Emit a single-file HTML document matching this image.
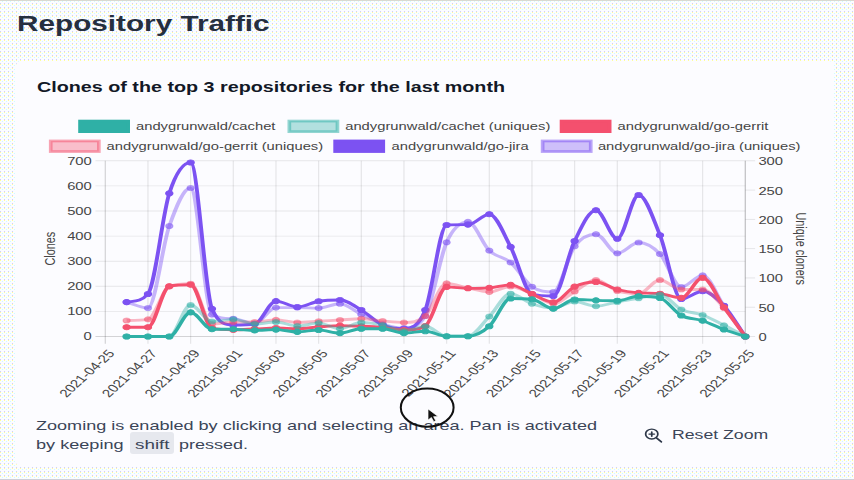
<!DOCTYPE html>
<html lang="en">
<head>
<meta charset="utf-8">
<title>Repository Traffic</title>
<style>
html,body{margin:0;padding:0;}
body{width:854px;height:480px;overflow:hidden;position:relative;background:#f7f9fb;font-family:"Liberation Sans",Arial,Helvetica,sans-serif;}
.topline{position:absolute;left:0;top:0;width:854px;height:1px;background:#d9d9cf;}
.fit{display:inline-block;white-space:nowrap;transform-origin:0 50%;}
h1{position:absolute;left:17.2px;top:8.7px;margin:0;font-size:22px;line-height:30px;font-weight:700;color:#252f3f;}
.card{position:absolute;left:16.4px;top:61px;width:817.6px;height:405.9px;background:#fcfcff;border-radius:6px/4.5px;}
h2{position:absolute;left:37.1px;top:76.5px;margin:0;font-size:15.2px;line-height:20px;font-weight:700;color:#121826;}
p.help{position:absolute;left:36.4px;top:417.4px;margin:0;font-size:12.8px;line-height:18.2px;color:#3b4558;}
p.help .ln{display:block;height:18.2px;white-space:nowrap;}
kbd{position:absolute;left:129.6px;top:432.4px;width:44.9px;height:21.8px;background:#e6e8ee;border-radius:3px;font-family:inherit;}
button.reset{position:absolute;left:634px;top:419px;width:146px;height:30px;margin:0;padding:0;border:0;background:transparent;font-family:inherit;font-size:12.8px;color:#3b4558;text-align:left;}
button.reset svg{position:absolute;left:9.2px;top:8.3px;}
button.reset .fit{position:absolute;left:37.5px;top:8.3px;line-height:16px;font-size:13.2px;}
#cursor{position:absolute;left:0;top:0;}
</style>
</head>
<body>
<svg id="bgpat" width="854" height="480" style="position:absolute;left:0;top:0" shape-rendering="crispEdges"><defs><pattern id="dz" width="4" height="4" patternUnits="userSpaceOnUse"><rect width="4" height="4" fill="#fcfcff"/><rect x="2" y="1" width="1" height="1" fill="#ccffff"/><rect x="0" y="3" width="1" height="1" fill="#ccccff"/><rect x="0" y="0" width="1" height="1" fill="#ffff99"/></pattern></defs><rect width="854" height="480" fill="url(#dz)"/></svg>
<div class="topline"></div><div class="topline" style="top:479px;background:#cfcfd8"></div>
<h1><span class="fit" id="t1" style="transform:scaleX(1.3505)">Repository Traffic</span></h1>
<div class="card"></div>
<h2><span class="fit" id="t2" style="transform:scaleX(1.2989)">Clones of the top 3 repositories for the last month</span></h2>
<svg id="chart" width="854" height="480" viewBox="0 0 854 480" style="position:absolute;left:0;top:0" font-family="'Liberation Sans', Arial, Helvetica, sans-serif">
<g transform="scale(1.3600,1)">
<rect x="58.86" y="121.06" width="35.37" height="10.59" fill="#2fb0a6" stroke="#2fb0a6" stroke-width="2.71"/>
<text x="100.00" y="130.26" font-size="10.86" fill="#454545">andygrunwald/cachet</text>
<rect x="212.75" y="121.06" width="35.37" height="10.59" fill="rgba(47,176,166,0.36)" stroke="rgba(47,176,166,0.52)" stroke-width="2.71"/>
<text x="253.82" y="130.26" font-size="10.86" fill="#454545">andygrunwald/cachet (uniques)</text>
<rect x="412.90" y="121.06" width="35.37" height="10.59" fill="#f4506e" stroke="#f4506e" stroke-width="2.71"/>
<text x="454.04" y="130.26" font-size="10.86" fill="#454545">andygrunwald/go-gerrit</text>
<rect x="37.31" y="140.96" width="35.37" height="10.59" fill="rgba(244,80,110,0.36)" stroke="rgba(244,80,110,0.52)" stroke-width="2.71"/>
<text x="78.38" y="150.16" font-size="10.86" fill="#454545">andygrunwald/go-gerrit (uniques)</text>
<rect x="246.43" y="140.96" width="35.37" height="10.59" fill="#7c52f2" stroke="#7c52f2" stroke-width="2.71"/>
<text x="287.94" y="150.16" font-size="10.86" fill="#454545">andygrunwald/go-jira</text>
<rect x="399.00" y="140.96" width="35.37" height="10.59" fill="rgba(124,82,242,0.36)" stroke="rgba(124,82,242,0.52)" stroke-width="2.71"/>
<text x="439.63" y="150.16" font-size="10.86" fill="#454545">andygrunwald/go-jira (uniques)</text>
<line x1="70.19" y1="336.50" x2="548.01" y2="336.50" stroke="rgba(0,0,0,0.16)" stroke-width="0.91"/>
<text x="67.50" y="340.41" font-size="10.86" fill="#454545" text-anchor="end">0</text>
<line x1="70.19" y1="311.40" x2="548.01" y2="311.40" stroke="rgba(0,0,0,0.09)" stroke-width="0.91"/>
<text x="67.50" y="315.31" font-size="10.86" fill="#454545" text-anchor="end">100</text>
<line x1="70.19" y1="286.30" x2="548.01" y2="286.30" stroke="rgba(0,0,0,0.09)" stroke-width="0.91"/>
<text x="67.50" y="290.21" font-size="10.86" fill="#454545" text-anchor="end">200</text>
<line x1="70.19" y1="261.20" x2="548.01" y2="261.20" stroke="rgba(0,0,0,0.09)" stroke-width="0.91"/>
<text x="67.50" y="265.11" font-size="10.86" fill="#454545" text-anchor="end">300</text>
<line x1="70.19" y1="236.10" x2="548.01" y2="236.10" stroke="rgba(0,0,0,0.09)" stroke-width="0.91"/>
<text x="67.50" y="240.01" font-size="10.86" fill="#454545" text-anchor="end">400</text>
<line x1="70.19" y1="211.00" x2="548.01" y2="211.00" stroke="rgba(0,0,0,0.09)" stroke-width="0.91"/>
<text x="67.50" y="214.91" font-size="10.86" fill="#454545" text-anchor="end">500</text>
<line x1="70.19" y1="185.90" x2="548.01" y2="185.90" stroke="rgba(0,0,0,0.09)" stroke-width="0.91"/>
<text x="67.50" y="189.81" font-size="10.86" fill="#454545" text-anchor="end">600</text>
<line x1="70.19" y1="160.80" x2="548.01" y2="160.80" stroke="rgba(0,0,0,0.09)" stroke-width="0.91"/>
<text x="67.50" y="164.71" font-size="10.86" fill="#454545" text-anchor="end">700</text>
<line x1="548.01" y1="336.50" x2="555.25" y2="336.50" stroke="rgba(0,0,0,0.1)" stroke-width="0.91"/>
<text x="557.65" y="341.01" font-size="10.86" fill="#454545">0</text>
<line x1="548.01" y1="307.22" x2="555.25" y2="307.22" stroke="rgba(0,0,0,0.1)" stroke-width="0.91"/>
<text x="557.65" y="311.73" font-size="10.86" fill="#454545">50</text>
<line x1="548.01" y1="277.93" x2="555.25" y2="277.93" stroke="rgba(0,0,0,0.1)" stroke-width="0.91"/>
<text x="557.65" y="282.44" font-size="10.86" fill="#454545">100</text>
<line x1="548.01" y1="248.65" x2="555.25" y2="248.65" stroke="rgba(0,0,0,0.1)" stroke-width="0.91"/>
<text x="557.65" y="253.16" font-size="10.86" fill="#454545">150</text>
<line x1="548.01" y1="219.37" x2="555.25" y2="219.37" stroke="rgba(0,0,0,0.1)" stroke-width="0.91"/>
<text x="557.65" y="223.88" font-size="10.86" fill="#454545">200</text>
<line x1="548.01" y1="190.08" x2="555.25" y2="190.08" stroke="rgba(0,0,0,0.1)" stroke-width="0.91"/>
<text x="557.65" y="194.59" font-size="10.86" fill="#454545">250</text>
<line x1="548.01" y1="160.80" x2="555.25" y2="160.80" stroke="rgba(0,0,0,0.1)" stroke-width="0.91"/>
<text x="557.65" y="165.31" font-size="10.86" fill="#454545">300</text>
<line x1="77.43" y1="160.80" x2="77.43" y2="343.74" stroke="rgba(0,0,0,0.16)" stroke-width="0.91"/>
<line x1="108.80" y1="160.80" x2="108.80" y2="343.74" stroke="rgba(0,0,0,0.09)" stroke-width="0.91"/>
<line x1="140.17" y1="160.80" x2="140.17" y2="343.74" stroke="rgba(0,0,0,0.09)" stroke-width="0.91"/>
<line x1="171.54" y1="160.80" x2="171.54" y2="343.74" stroke="rgba(0,0,0,0.09)" stroke-width="0.91"/>
<line x1="202.92" y1="160.80" x2="202.92" y2="343.74" stroke="rgba(0,0,0,0.09)" stroke-width="0.91"/>
<line x1="234.29" y1="160.80" x2="234.29" y2="343.74" stroke="rgba(0,0,0,0.09)" stroke-width="0.91"/>
<line x1="265.66" y1="160.80" x2="265.66" y2="343.74" stroke="rgba(0,0,0,0.09)" stroke-width="0.91"/>
<line x1="297.03" y1="160.80" x2="297.03" y2="343.74" stroke="rgba(0,0,0,0.09)" stroke-width="0.91"/>
<line x1="328.41" y1="160.80" x2="328.41" y2="343.74" stroke="rgba(0,0,0,0.09)" stroke-width="0.91"/>
<line x1="359.78" y1="160.80" x2="359.78" y2="343.74" stroke="rgba(0,0,0,0.09)" stroke-width="0.91"/>
<line x1="391.15" y1="160.80" x2="391.15" y2="343.74" stroke="rgba(0,0,0,0.09)" stroke-width="0.91"/>
<line x1="422.52" y1="160.80" x2="422.52" y2="343.74" stroke="rgba(0,0,0,0.09)" stroke-width="0.91"/>
<line x1="453.90" y1="160.80" x2="453.90" y2="343.74" stroke="rgba(0,0,0,0.09)" stroke-width="0.91"/>
<line x1="485.27" y1="160.80" x2="485.27" y2="343.74" stroke="rgba(0,0,0,0.09)" stroke-width="0.91"/>
<line x1="516.64" y1="160.80" x2="516.64" y2="343.74" stroke="rgba(0,0,0,0.09)" stroke-width="0.91"/>
<line x1="548.01" y1="160.80" x2="548.01" y2="343.74" stroke="rgba(0,0,0,0.09)" stroke-width="0.91"/>
<line x1="548.01" y1="160.80" x2="548.01" y2="336.50" stroke="rgba(0,0,0,0.16)" stroke-width="0.91"/>
<text transform="translate(78.53,348.75) rotate(-50.8)" font-size="11.13" fill="#454545" text-anchor="end" dominant-baseline="hanging" dy="0">2021-04-25</text>
<text transform="translate(109.90,348.75) rotate(-50.8)" font-size="11.13" fill="#454545" text-anchor="end" dominant-baseline="hanging" dy="0">2021-04-27</text>
<text transform="translate(141.27,348.75) rotate(-50.8)" font-size="11.13" fill="#454545" text-anchor="end" dominant-baseline="hanging" dy="0">2021-04-29</text>
<text transform="translate(172.65,348.75) rotate(-50.8)" font-size="11.13" fill="#454545" text-anchor="end" dominant-baseline="hanging" dy="0">2021-05-01</text>
<text transform="translate(204.02,348.75) rotate(-50.8)" font-size="11.13" fill="#454545" text-anchor="end" dominant-baseline="hanging" dy="0">2021-05-03</text>
<text transform="translate(235.39,348.75) rotate(-50.8)" font-size="11.13" fill="#454545" text-anchor="end" dominant-baseline="hanging" dy="0">2021-05-05</text>
<text transform="translate(266.76,348.75) rotate(-50.8)" font-size="11.13" fill="#454545" text-anchor="end" dominant-baseline="hanging" dy="0">2021-05-07</text>
<text transform="translate(298.14,348.75) rotate(-50.8)" font-size="11.13" fill="#454545" text-anchor="end" dominant-baseline="hanging" dy="0">2021-05-09</text>
<text transform="translate(329.51,348.75) rotate(-50.8)" font-size="11.13" fill="#454545" text-anchor="end" dominant-baseline="hanging" dy="0">2021-05-11</text>
<text transform="translate(360.88,348.75) rotate(-50.8)" font-size="11.13" fill="#454545" text-anchor="end" dominant-baseline="hanging" dy="0">2021-05-13</text>
<text transform="translate(392.25,348.75) rotate(-50.8)" font-size="11.13" fill="#454545" text-anchor="end" dominant-baseline="hanging" dy="0">2021-05-15</text>
<text transform="translate(423.63,348.75) rotate(-50.8)" font-size="11.13" fill="#454545" text-anchor="end" dominant-baseline="hanging" dy="0">2021-05-17</text>
<text transform="translate(455.00,348.75) rotate(-50.8)" font-size="11.13" fill="#454545" text-anchor="end" dominant-baseline="hanging" dy="0">2021-05-19</text>
<text transform="translate(486.37,348.75) rotate(-50.8)" font-size="11.13" fill="#454545" text-anchor="end" dominant-baseline="hanging" dy="0">2021-05-21</text>
<text transform="translate(517.75,348.75) rotate(-50.8)" font-size="11.13" fill="#454545" text-anchor="end" dominant-baseline="hanging" dy="0">2021-05-23</text>
<text transform="translate(549.12,348.75) rotate(-50.8)" font-size="11.13" fill="#454545" text-anchor="end" dominant-baseline="hanging" dy="0">2021-05-25</text>
<text transform="translate(40.29,248.65) rotate(-90)" font-size="10.86" fill="#454545" text-anchor="middle">Clones</text>
<text transform="translate(585.29,248.65) rotate(90)" font-size="10.86" fill="#454545" text-anchor="middle">Unique cloners</text>
<path d="M93.11 302.10C98.34 304.07 103.57 308.00 108.80 308.00C114.03 308.00 119.26 246.00 124.49 226.00C129.71 206.00 134.94 188.00 140.17 188.00C145.40 188.00 150.63 310.51 155.86 314.60C161.09 318.69 166.32 318.42 171.54 318.70C176.77 318.98 182.00 323.40 187.23 323.40C192.46 323.40 197.69 307.60 202.92 307.60C208.15 307.60 213.37 307.60 218.60 307.60C223.83 307.60 229.06 308.10 234.29 308.10C239.52 308.10 244.75 303.75 249.98 303.75C255.20 303.75 260.43 311.02 265.66 314.40C270.89 317.77 276.12 321.73 281.35 324.00C286.58 326.27 291.81 328.00 297.03 328.00C302.26 328.00 307.49 328.00 312.72 316.00C317.95 304.00 323.18 257.98 328.41 242.30C333.64 226.62 338.86 221.90 344.09 221.90C349.32 221.90 354.55 243.83 359.78 250.60C365.01 257.37 370.24 256.48 375.47 262.50C380.69 268.52 385.92 281.78 391.15 286.70C396.38 291.62 401.61 292.00 406.84 292.00C412.07 292.00 417.30 255.88 422.52 246.25C427.75 236.62 432.98 234.20 438.21 234.20C443.44 234.20 448.67 253.30 453.90 253.30C459.13 253.30 464.35 242.50 469.58 242.50C474.81 242.50 480.04 246.58 485.27 254.00C490.50 261.42 495.73 287.00 500.96 287.00C506.18 287.00 511.41 275.30 516.64 275.30C521.87 275.30 527.10 295.80 532.33 306.00C537.56 316.20 542.79 326.33 548.01 336.50" fill="none" stroke="rgba(124,82,242,0.42)" stroke-width="2.85" stroke-linejoin="round" stroke-linecap="butt"/>
<circle cx="93.11" cy="302.10" r="2.62" fill="rgba(124,82,242,0.55)" stroke="rgba(124,82,242,0.42)" stroke-width="0.91"/>
<circle cx="108.80" cy="308.00" r="2.62" fill="rgba(124,82,242,0.55)" stroke="rgba(124,82,242,0.42)" stroke-width="0.91"/>
<circle cx="124.49" cy="226.00" r="2.62" fill="rgba(124,82,242,0.55)" stroke="rgba(124,82,242,0.42)" stroke-width="0.91"/>
<circle cx="140.17" cy="188.00" r="2.62" fill="rgba(124,82,242,0.55)" stroke="rgba(124,82,242,0.42)" stroke-width="0.91"/>
<circle cx="155.86" cy="314.60" r="2.62" fill="rgba(124,82,242,0.55)" stroke="rgba(124,82,242,0.42)" stroke-width="0.91"/>
<circle cx="171.54" cy="318.70" r="2.62" fill="rgba(124,82,242,0.55)" stroke="rgba(124,82,242,0.42)" stroke-width="0.91"/>
<circle cx="187.23" cy="323.40" r="2.62" fill="rgba(124,82,242,0.55)" stroke="rgba(124,82,242,0.42)" stroke-width="0.91"/>
<circle cx="202.92" cy="307.60" r="2.62" fill="rgba(124,82,242,0.55)" stroke="rgba(124,82,242,0.42)" stroke-width="0.91"/>
<circle cx="218.60" cy="307.60" r="2.62" fill="rgba(124,82,242,0.55)" stroke="rgba(124,82,242,0.42)" stroke-width="0.91"/>
<circle cx="234.29" cy="308.10" r="2.62" fill="rgba(124,82,242,0.55)" stroke="rgba(124,82,242,0.42)" stroke-width="0.91"/>
<circle cx="249.98" cy="303.75" r="2.62" fill="rgba(124,82,242,0.55)" stroke="rgba(124,82,242,0.42)" stroke-width="0.91"/>
<circle cx="265.66" cy="314.40" r="2.62" fill="rgba(124,82,242,0.55)" stroke="rgba(124,82,242,0.42)" stroke-width="0.91"/>
<circle cx="281.35" cy="324.00" r="2.62" fill="rgba(124,82,242,0.55)" stroke="rgba(124,82,242,0.42)" stroke-width="0.91"/>
<circle cx="297.03" cy="328.00" r="2.62" fill="rgba(124,82,242,0.55)" stroke="rgba(124,82,242,0.42)" stroke-width="0.91"/>
<circle cx="312.72" cy="316.00" r="2.62" fill="rgba(124,82,242,0.55)" stroke="rgba(124,82,242,0.42)" stroke-width="0.91"/>
<circle cx="328.41" cy="242.30" r="2.62" fill="rgba(124,82,242,0.55)" stroke="rgba(124,82,242,0.42)" stroke-width="0.91"/>
<circle cx="344.09" cy="221.90" r="2.62" fill="rgba(124,82,242,0.55)" stroke="rgba(124,82,242,0.42)" stroke-width="0.91"/>
<circle cx="359.78" cy="250.60" r="2.62" fill="rgba(124,82,242,0.55)" stroke="rgba(124,82,242,0.42)" stroke-width="0.91"/>
<circle cx="375.47" cy="262.50" r="2.62" fill="rgba(124,82,242,0.55)" stroke="rgba(124,82,242,0.42)" stroke-width="0.91"/>
<circle cx="391.15" cy="286.70" r="2.62" fill="rgba(124,82,242,0.55)" stroke="rgba(124,82,242,0.42)" stroke-width="0.91"/>
<circle cx="406.84" cy="292.00" r="2.62" fill="rgba(124,82,242,0.55)" stroke="rgba(124,82,242,0.42)" stroke-width="0.91"/>
<circle cx="422.52" cy="246.25" r="2.62" fill="rgba(124,82,242,0.55)" stroke="rgba(124,82,242,0.42)" stroke-width="0.91"/>
<circle cx="438.21" cy="234.20" r="2.62" fill="rgba(124,82,242,0.55)" stroke="rgba(124,82,242,0.42)" stroke-width="0.91"/>
<circle cx="453.90" cy="253.30" r="2.62" fill="rgba(124,82,242,0.55)" stroke="rgba(124,82,242,0.42)" stroke-width="0.91"/>
<circle cx="469.58" cy="242.50" r="2.62" fill="rgba(124,82,242,0.55)" stroke="rgba(124,82,242,0.42)" stroke-width="0.91"/>
<circle cx="485.27" cy="254.00" r="2.62" fill="rgba(124,82,242,0.55)" stroke="rgba(124,82,242,0.42)" stroke-width="0.91"/>
<circle cx="500.96" cy="287.00" r="2.62" fill="rgba(124,82,242,0.55)" stroke="rgba(124,82,242,0.42)" stroke-width="0.91"/>
<circle cx="516.64" cy="275.30" r="2.62" fill="rgba(124,82,242,0.55)" stroke="rgba(124,82,242,0.42)" stroke-width="0.91"/>
<circle cx="532.33" cy="306.00" r="2.62" fill="rgba(124,82,242,0.55)" stroke="rgba(124,82,242,0.42)" stroke-width="0.91"/>
<circle cx="548.01" cy="336.50" r="2.62" fill="rgba(124,82,242,0.55)" stroke="rgba(124,82,242,0.42)" stroke-width="0.91"/>
<path d="M93.11 302.10C98.34 300.91 103.57 302.01 108.80 294.00C114.03 285.99 119.26 215.22 124.49 193.30C129.71 171.38 134.94 162.50 140.17 162.50C145.40 162.50 150.63 292.60 155.86 308.80C161.09 325.00 166.32 325.00 171.54 325.00C176.77 325.00 182.00 325.00 187.23 324.00C192.46 323.00 197.69 301.10 202.92 301.10C208.15 301.10 213.37 307.00 218.60 307.00C223.83 307.00 229.06 302.42 234.29 301.25C239.52 300.08 244.75 300.00 249.98 300.00C255.20 300.00 260.43 305.83 265.66 310.00C270.89 314.17 276.12 321.88 281.35 325.00C286.58 328.12 291.81 328.75 297.03 328.75C302.26 328.75 307.49 327.29 312.72 310.00C317.95 292.71 323.18 225.40 328.41 225.00C333.64 224.60 338.86 224.65 344.09 224.60C349.32 224.55 354.55 214.20 359.78 214.20C365.01 214.20 370.24 233.60 375.47 246.90C380.69 260.20 385.92 292.00 391.15 294.00C396.38 296.00 401.61 296.00 406.84 296.00C412.07 296.00 417.30 255.30 422.52 241.00C427.75 226.70 432.98 210.20 438.21 210.20C443.44 210.20 448.67 238.75 453.90 238.75C459.13 238.75 464.35 195.00 469.58 195.00C474.81 195.00 480.04 217.87 485.27 235.20C490.50 252.53 495.73 299.00 500.96 299.00C506.18 299.00 511.41 291.20 516.64 291.20C521.87 291.20 527.10 298.15 532.33 305.70C537.56 313.25 542.79 326.23 548.01 336.50" fill="none" stroke="#7c52f2" stroke-width="2.85" stroke-linejoin="round" stroke-linecap="butt"/>
<circle cx="93.11" cy="302.10" r="2.62" fill="#7c52f2" stroke="#7c52f2" stroke-width="0.91"/>
<circle cx="108.80" cy="294.00" r="2.62" fill="#7c52f2" stroke="#7c52f2" stroke-width="0.91"/>
<circle cx="124.49" cy="193.30" r="2.62" fill="#7c52f2" stroke="#7c52f2" stroke-width="0.91"/>
<circle cx="140.17" cy="162.50" r="2.62" fill="#7c52f2" stroke="#7c52f2" stroke-width="0.91"/>
<circle cx="155.86" cy="308.80" r="2.62" fill="#7c52f2" stroke="#7c52f2" stroke-width="0.91"/>
<circle cx="171.54" cy="325.00" r="2.62" fill="#7c52f2" stroke="#7c52f2" stroke-width="0.91"/>
<circle cx="187.23" cy="324.00" r="2.62" fill="#7c52f2" stroke="#7c52f2" stroke-width="0.91"/>
<circle cx="202.92" cy="301.10" r="2.62" fill="#7c52f2" stroke="#7c52f2" stroke-width="0.91"/>
<circle cx="218.60" cy="307.00" r="2.62" fill="#7c52f2" stroke="#7c52f2" stroke-width="0.91"/>
<circle cx="234.29" cy="301.25" r="2.62" fill="#7c52f2" stroke="#7c52f2" stroke-width="0.91"/>
<circle cx="249.98" cy="300.00" r="2.62" fill="#7c52f2" stroke="#7c52f2" stroke-width="0.91"/>
<circle cx="265.66" cy="310.00" r="2.62" fill="#7c52f2" stroke="#7c52f2" stroke-width="0.91"/>
<circle cx="281.35" cy="325.00" r="2.62" fill="#7c52f2" stroke="#7c52f2" stroke-width="0.91"/>
<circle cx="297.03" cy="328.75" r="2.62" fill="#7c52f2" stroke="#7c52f2" stroke-width="0.91"/>
<circle cx="312.72" cy="310.00" r="2.62" fill="#7c52f2" stroke="#7c52f2" stroke-width="0.91"/>
<circle cx="328.41" cy="225.00" r="2.62" fill="#7c52f2" stroke="#7c52f2" stroke-width="0.91"/>
<circle cx="344.09" cy="224.60" r="2.62" fill="#7c52f2" stroke="#7c52f2" stroke-width="0.91"/>
<circle cx="359.78" cy="214.20" r="2.62" fill="#7c52f2" stroke="#7c52f2" stroke-width="0.91"/>
<circle cx="375.47" cy="246.90" r="2.62" fill="#7c52f2" stroke="#7c52f2" stroke-width="0.91"/>
<circle cx="391.15" cy="294.00" r="2.62" fill="#7c52f2" stroke="#7c52f2" stroke-width="0.91"/>
<circle cx="406.84" cy="296.00" r="2.62" fill="#7c52f2" stroke="#7c52f2" stroke-width="0.91"/>
<circle cx="422.52" cy="241.00" r="2.62" fill="#7c52f2" stroke="#7c52f2" stroke-width="0.91"/>
<circle cx="438.21" cy="210.20" r="2.62" fill="#7c52f2" stroke="#7c52f2" stroke-width="0.91"/>
<circle cx="453.90" cy="238.75" r="2.62" fill="#7c52f2" stroke="#7c52f2" stroke-width="0.91"/>
<circle cx="469.58" cy="195.00" r="2.62" fill="#7c52f2" stroke="#7c52f2" stroke-width="0.91"/>
<circle cx="485.27" cy="235.20" r="2.62" fill="#7c52f2" stroke="#7c52f2" stroke-width="0.91"/>
<circle cx="500.96" cy="299.00" r="2.62" fill="#7c52f2" stroke="#7c52f2" stroke-width="0.91"/>
<circle cx="516.64" cy="291.20" r="2.62" fill="#7c52f2" stroke="#7c52f2" stroke-width="0.91"/>
<circle cx="532.33" cy="305.70" r="2.62" fill="#7c52f2" stroke="#7c52f2" stroke-width="0.91"/>
<circle cx="548.01" cy="336.50" r="2.62" fill="#7c52f2" stroke="#7c52f2" stroke-width="0.91"/>
<path d="M93.11 320.50C98.34 320.42 103.57 320.50 108.80 319.30C114.03 318.10 119.26 289.50 124.49 286.60C129.71 283.70 134.94 283.70 140.17 283.70C145.40 283.70 150.63 324.00 155.86 324.00C161.09 324.00 166.32 322.00 171.54 322.00C176.77 322.00 182.00 322.00 187.23 322.00C192.46 322.00 197.69 319.90 202.92 319.90C208.15 319.90 213.37 322.50 218.60 322.50C223.83 322.50 229.06 321.67 234.29 321.25C239.52 320.83 244.75 320.42 249.98 320.00C255.20 319.58 260.43 318.75 265.66 318.75C270.89 318.75 276.12 320.38 281.35 321.00C286.58 321.62 291.81 322.50 297.03 322.50C302.26 322.50 307.49 322.50 312.72 316.00C317.95 309.50 323.18 283.30 328.41 283.30C333.64 283.30 338.86 286.57 344.09 288.00C349.32 289.43 354.55 291.90 359.78 291.90C365.01 291.90 370.24 286.50 375.47 286.50C380.69 286.50 385.92 291.12 391.15 294.00C396.38 296.88 401.61 303.75 406.84 303.75C412.07 303.75 417.30 295.46 422.52 291.50C427.75 287.54 432.98 280.00 438.21 280.00C443.44 280.00 448.67 288.72 453.90 291.00C459.13 293.28 464.35 293.70 469.58 293.70C474.81 293.70 480.04 280.00 485.27 280.00C490.50 280.00 495.73 289.50 500.96 289.50C506.18 289.50 511.41 289.50 516.64 289.50C521.87 289.50 527.10 300.17 532.33 308.00C537.56 315.83 542.79 327.00 548.01 336.50" fill="none" stroke="rgba(244,80,110,0.40)" stroke-width="2.85" stroke-linejoin="round" stroke-linecap="butt"/>
<circle cx="93.11" cy="320.50" r="2.62" fill="rgba(244,80,110,0.55)" stroke="rgba(244,80,110,0.40)" stroke-width="0.91"/>
<circle cx="108.80" cy="319.30" r="2.62" fill="rgba(244,80,110,0.55)" stroke="rgba(244,80,110,0.40)" stroke-width="0.91"/>
<circle cx="124.49" cy="286.60" r="2.62" fill="rgba(244,80,110,0.55)" stroke="rgba(244,80,110,0.40)" stroke-width="0.91"/>
<circle cx="140.17" cy="283.70" r="2.62" fill="rgba(244,80,110,0.55)" stroke="rgba(244,80,110,0.40)" stroke-width="0.91"/>
<circle cx="155.86" cy="324.00" r="2.62" fill="rgba(244,80,110,0.55)" stroke="rgba(244,80,110,0.40)" stroke-width="0.91"/>
<circle cx="171.54" cy="322.00" r="2.62" fill="rgba(244,80,110,0.55)" stroke="rgba(244,80,110,0.40)" stroke-width="0.91"/>
<circle cx="187.23" cy="322.00" r="2.62" fill="rgba(244,80,110,0.55)" stroke="rgba(244,80,110,0.40)" stroke-width="0.91"/>
<circle cx="202.92" cy="319.90" r="2.62" fill="rgba(244,80,110,0.55)" stroke="rgba(244,80,110,0.40)" stroke-width="0.91"/>
<circle cx="218.60" cy="322.50" r="2.62" fill="rgba(244,80,110,0.55)" stroke="rgba(244,80,110,0.40)" stroke-width="0.91"/>
<circle cx="234.29" cy="321.25" r="2.62" fill="rgba(244,80,110,0.55)" stroke="rgba(244,80,110,0.40)" stroke-width="0.91"/>
<circle cx="249.98" cy="320.00" r="2.62" fill="rgba(244,80,110,0.55)" stroke="rgba(244,80,110,0.40)" stroke-width="0.91"/>
<circle cx="265.66" cy="318.75" r="2.62" fill="rgba(244,80,110,0.55)" stroke="rgba(244,80,110,0.40)" stroke-width="0.91"/>
<circle cx="281.35" cy="321.00" r="2.62" fill="rgba(244,80,110,0.55)" stroke="rgba(244,80,110,0.40)" stroke-width="0.91"/>
<circle cx="297.03" cy="322.50" r="2.62" fill="rgba(244,80,110,0.55)" stroke="rgba(244,80,110,0.40)" stroke-width="0.91"/>
<circle cx="312.72" cy="316.00" r="2.62" fill="rgba(244,80,110,0.55)" stroke="rgba(244,80,110,0.40)" stroke-width="0.91"/>
<circle cx="328.41" cy="283.30" r="2.62" fill="rgba(244,80,110,0.55)" stroke="rgba(244,80,110,0.40)" stroke-width="0.91"/>
<circle cx="344.09" cy="288.00" r="2.62" fill="rgba(244,80,110,0.55)" stroke="rgba(244,80,110,0.40)" stroke-width="0.91"/>
<circle cx="359.78" cy="291.90" r="2.62" fill="rgba(244,80,110,0.55)" stroke="rgba(244,80,110,0.40)" stroke-width="0.91"/>
<circle cx="375.47" cy="286.50" r="2.62" fill="rgba(244,80,110,0.55)" stroke="rgba(244,80,110,0.40)" stroke-width="0.91"/>
<circle cx="391.15" cy="294.00" r="2.62" fill="rgba(244,80,110,0.55)" stroke="rgba(244,80,110,0.40)" stroke-width="0.91"/>
<circle cx="406.84" cy="303.75" r="2.62" fill="rgba(244,80,110,0.55)" stroke="rgba(244,80,110,0.40)" stroke-width="0.91"/>
<circle cx="422.52" cy="291.50" r="2.62" fill="rgba(244,80,110,0.55)" stroke="rgba(244,80,110,0.40)" stroke-width="0.91"/>
<circle cx="438.21" cy="280.00" r="2.62" fill="rgba(244,80,110,0.55)" stroke="rgba(244,80,110,0.40)" stroke-width="0.91"/>
<circle cx="453.90" cy="291.00" r="2.62" fill="rgba(244,80,110,0.55)" stroke="rgba(244,80,110,0.40)" stroke-width="0.91"/>
<circle cx="469.58" cy="293.70" r="2.62" fill="rgba(244,80,110,0.55)" stroke="rgba(244,80,110,0.40)" stroke-width="0.91"/>
<circle cx="485.27" cy="280.00" r="2.62" fill="rgba(244,80,110,0.55)" stroke="rgba(244,80,110,0.40)" stroke-width="0.91"/>
<circle cx="500.96" cy="289.50" r="2.62" fill="rgba(244,80,110,0.55)" stroke="rgba(244,80,110,0.40)" stroke-width="0.91"/>
<circle cx="516.64" cy="289.50" r="2.62" fill="rgba(244,80,110,0.55)" stroke="rgba(244,80,110,0.40)" stroke-width="0.91"/>
<circle cx="532.33" cy="308.00" r="2.62" fill="rgba(244,80,110,0.55)" stroke="rgba(244,80,110,0.40)" stroke-width="0.91"/>
<circle cx="548.01" cy="336.50" r="2.62" fill="rgba(244,80,110,0.55)" stroke="rgba(244,80,110,0.40)" stroke-width="0.91"/>
<path d="M93.11 327.20C98.34 327.20 103.57 327.20 108.80 327.20C114.03 327.20 119.26 287.70 124.49 286.20C129.71 284.70 134.94 284.70 140.17 284.70C145.40 284.70 150.63 326.20 155.86 328.00C161.09 329.80 166.32 329.80 171.54 329.80C176.77 329.80 182.00 329.30 187.23 329.00C192.46 328.70 197.69 328.00 202.92 328.00C208.15 328.00 213.37 328.75 218.60 328.75C223.83 328.75 229.06 327.42 234.29 326.90C239.52 326.38 244.75 325.60 249.98 325.60C255.20 325.60 260.43 325.93 265.66 326.25C270.89 326.57 276.12 326.88 281.35 327.50C286.58 328.12 291.81 330.00 297.03 330.00C302.26 330.00 307.49 330.00 312.72 326.00C317.95 322.00 323.18 286.90 328.41 286.90C333.64 286.90 338.86 288.30 344.09 288.30C349.32 288.30 354.55 288.30 359.78 287.80C365.01 287.30 370.24 284.80 375.47 284.80C380.69 284.80 385.92 291.09 391.15 294.00C396.38 296.91 401.61 302.25 406.84 302.25C412.07 302.25 417.30 289.98 422.52 286.60C427.75 283.23 432.98 282.00 438.21 282.00C443.44 282.00 448.67 287.70 453.90 289.50C459.13 291.30 464.35 292.22 469.58 292.80C474.81 293.38 480.04 293.01 485.27 293.70C490.50 294.39 495.73 297.80 500.96 297.80C506.18 297.80 511.41 277.80 516.64 277.80C521.87 277.80 527.10 297.52 532.33 307.30C537.56 317.08 542.79 326.77 548.01 336.50" fill="none" stroke="#f4506e" stroke-width="2.85" stroke-linejoin="round" stroke-linecap="butt"/>
<circle cx="93.11" cy="327.20" r="2.62" fill="#f4506e" stroke="#f4506e" stroke-width="0.91"/>
<circle cx="108.80" cy="327.20" r="2.62" fill="#f4506e" stroke="#f4506e" stroke-width="0.91"/>
<circle cx="124.49" cy="286.20" r="2.62" fill="#f4506e" stroke="#f4506e" stroke-width="0.91"/>
<circle cx="140.17" cy="284.70" r="2.62" fill="#f4506e" stroke="#f4506e" stroke-width="0.91"/>
<circle cx="155.86" cy="328.00" r="2.62" fill="#f4506e" stroke="#f4506e" stroke-width="0.91"/>
<circle cx="171.54" cy="329.80" r="2.62" fill="#f4506e" stroke="#f4506e" stroke-width="0.91"/>
<circle cx="187.23" cy="329.00" r="2.62" fill="#f4506e" stroke="#f4506e" stroke-width="0.91"/>
<circle cx="202.92" cy="328.00" r="2.62" fill="#f4506e" stroke="#f4506e" stroke-width="0.91"/>
<circle cx="218.60" cy="328.75" r="2.62" fill="#f4506e" stroke="#f4506e" stroke-width="0.91"/>
<circle cx="234.29" cy="326.90" r="2.62" fill="#f4506e" stroke="#f4506e" stroke-width="0.91"/>
<circle cx="249.98" cy="325.60" r="2.62" fill="#f4506e" stroke="#f4506e" stroke-width="0.91"/>
<circle cx="265.66" cy="326.25" r="2.62" fill="#f4506e" stroke="#f4506e" stroke-width="0.91"/>
<circle cx="281.35" cy="327.50" r="2.62" fill="#f4506e" stroke="#f4506e" stroke-width="0.91"/>
<circle cx="297.03" cy="330.00" r="2.62" fill="#f4506e" stroke="#f4506e" stroke-width="0.91"/>
<circle cx="312.72" cy="326.00" r="2.62" fill="#f4506e" stroke="#f4506e" stroke-width="0.91"/>
<circle cx="328.41" cy="286.90" r="2.62" fill="#f4506e" stroke="#f4506e" stroke-width="0.91"/>
<circle cx="344.09" cy="288.30" r="2.62" fill="#f4506e" stroke="#f4506e" stroke-width="0.91"/>
<circle cx="359.78" cy="287.80" r="2.62" fill="#f4506e" stroke="#f4506e" stroke-width="0.91"/>
<circle cx="375.47" cy="284.80" r="2.62" fill="#f4506e" stroke="#f4506e" stroke-width="0.91"/>
<circle cx="391.15" cy="294.00" r="2.62" fill="#f4506e" stroke="#f4506e" stroke-width="0.91"/>
<circle cx="406.84" cy="302.25" r="2.62" fill="#f4506e" stroke="#f4506e" stroke-width="0.91"/>
<circle cx="422.52" cy="286.60" r="2.62" fill="#f4506e" stroke="#f4506e" stroke-width="0.91"/>
<circle cx="438.21" cy="282.00" r="2.62" fill="#f4506e" stroke="#f4506e" stroke-width="0.91"/>
<circle cx="453.90" cy="289.50" r="2.62" fill="#f4506e" stroke="#f4506e" stroke-width="0.91"/>
<circle cx="469.58" cy="292.80" r="2.62" fill="#f4506e" stroke="#f4506e" stroke-width="0.91"/>
<circle cx="485.27" cy="293.70" r="2.62" fill="#f4506e" stroke="#f4506e" stroke-width="0.91"/>
<circle cx="500.96" cy="297.80" r="2.62" fill="#f4506e" stroke="#f4506e" stroke-width="0.91"/>
<circle cx="516.64" cy="277.80" r="2.62" fill="#f4506e" stroke="#f4506e" stroke-width="0.91"/>
<circle cx="532.33" cy="307.30" r="2.62" fill="#f4506e" stroke="#f4506e" stroke-width="0.91"/>
<circle cx="548.01" cy="336.50" r="2.62" fill="#f4506e" stroke="#f4506e" stroke-width="0.91"/>
<path d="M93.11 336.50C98.34 336.50 103.57 336.50 108.80 336.50C114.03 336.50 119.26 336.50 124.49 336.50C129.71 336.50 134.94 305.00 140.17 305.00C145.40 305.00 150.63 321.50 155.86 321.50C161.09 321.50 166.32 319.30 171.54 319.30C176.77 319.30 182.00 324.00 187.23 324.00C192.46 324.00 197.69 322.00 202.92 322.00C208.15 322.00 213.37 326.00 218.60 326.00C223.83 326.00 229.06 323.10 234.29 323.10C239.52 323.10 244.75 328.75 249.98 328.75C255.20 328.75 260.43 322.50 265.66 322.50C270.89 322.50 276.12 323.58 281.35 325.00C286.58 326.42 291.81 331.00 297.03 331.00C302.26 331.00 307.49 326.25 312.72 326.25C317.95 326.25 323.18 336.25 328.41 336.25C333.64 336.25 338.86 336.25 344.09 336.25C349.32 336.25 354.55 323.59 359.78 316.50C365.01 309.41 370.24 293.70 375.47 293.70C380.69 293.70 385.92 301.32 391.15 303.75C396.38 306.18 401.61 308.25 406.84 308.25C412.07 308.25 417.30 301.50 422.52 301.50C427.75 301.50 432.98 306.20 438.21 306.20C443.44 306.20 448.67 303.32 453.90 302.00C459.13 300.68 464.35 299.55 469.58 298.30C474.81 297.05 480.04 294.50 485.27 294.50C490.50 294.50 495.73 306.08 500.96 309.50C506.18 312.92 511.41 312.37 516.64 315.00C521.87 317.63 527.10 321.72 532.33 325.30C537.56 328.88 542.79 332.77 548.01 336.50" fill="none" stroke="rgba(47,176,166,0.40)" stroke-width="2.85" stroke-linejoin="round" stroke-linecap="butt"/>
<circle cx="93.11" cy="336.50" r="2.62" fill="rgba(47,176,166,0.55)" stroke="rgba(47,176,166,0.40)" stroke-width="0.91"/>
<circle cx="108.80" cy="336.50" r="2.62" fill="rgba(47,176,166,0.55)" stroke="rgba(47,176,166,0.40)" stroke-width="0.91"/>
<circle cx="124.49" cy="336.50" r="2.62" fill="rgba(47,176,166,0.55)" stroke="rgba(47,176,166,0.40)" stroke-width="0.91"/>
<circle cx="140.17" cy="305.00" r="2.62" fill="rgba(47,176,166,0.55)" stroke="rgba(47,176,166,0.40)" stroke-width="0.91"/>
<circle cx="155.86" cy="321.50" r="2.62" fill="rgba(47,176,166,0.55)" stroke="rgba(47,176,166,0.40)" stroke-width="0.91"/>
<circle cx="171.54" cy="319.30" r="2.62" fill="rgba(47,176,166,0.55)" stroke="rgba(47,176,166,0.40)" stroke-width="0.91"/>
<circle cx="187.23" cy="324.00" r="2.62" fill="rgba(47,176,166,0.55)" stroke="rgba(47,176,166,0.40)" stroke-width="0.91"/>
<circle cx="202.92" cy="322.00" r="2.62" fill="rgba(47,176,166,0.55)" stroke="rgba(47,176,166,0.40)" stroke-width="0.91"/>
<circle cx="218.60" cy="326.00" r="2.62" fill="rgba(47,176,166,0.55)" stroke="rgba(47,176,166,0.40)" stroke-width="0.91"/>
<circle cx="234.29" cy="323.10" r="2.62" fill="rgba(47,176,166,0.55)" stroke="rgba(47,176,166,0.40)" stroke-width="0.91"/>
<circle cx="249.98" cy="328.75" r="2.62" fill="rgba(47,176,166,0.55)" stroke="rgba(47,176,166,0.40)" stroke-width="0.91"/>
<circle cx="265.66" cy="322.50" r="2.62" fill="rgba(47,176,166,0.55)" stroke="rgba(47,176,166,0.40)" stroke-width="0.91"/>
<circle cx="281.35" cy="325.00" r="2.62" fill="rgba(47,176,166,0.55)" stroke="rgba(47,176,166,0.40)" stroke-width="0.91"/>
<circle cx="297.03" cy="331.00" r="2.62" fill="rgba(47,176,166,0.55)" stroke="rgba(47,176,166,0.40)" stroke-width="0.91"/>
<circle cx="312.72" cy="326.25" r="2.62" fill="rgba(47,176,166,0.55)" stroke="rgba(47,176,166,0.40)" stroke-width="0.91"/>
<circle cx="328.41" cy="336.25" r="2.62" fill="rgba(47,176,166,0.55)" stroke="rgba(47,176,166,0.40)" stroke-width="0.91"/>
<circle cx="344.09" cy="336.25" r="2.62" fill="rgba(47,176,166,0.55)" stroke="rgba(47,176,166,0.40)" stroke-width="0.91"/>
<circle cx="359.78" cy="316.50" r="2.62" fill="rgba(47,176,166,0.55)" stroke="rgba(47,176,166,0.40)" stroke-width="0.91"/>
<circle cx="375.47" cy="293.70" r="2.62" fill="rgba(47,176,166,0.55)" stroke="rgba(47,176,166,0.40)" stroke-width="0.91"/>
<circle cx="391.15" cy="303.75" r="2.62" fill="rgba(47,176,166,0.55)" stroke="rgba(47,176,166,0.40)" stroke-width="0.91"/>
<circle cx="406.84" cy="308.25" r="2.62" fill="rgba(47,176,166,0.55)" stroke="rgba(47,176,166,0.40)" stroke-width="0.91"/>
<circle cx="422.52" cy="301.50" r="2.62" fill="rgba(47,176,166,0.55)" stroke="rgba(47,176,166,0.40)" stroke-width="0.91"/>
<circle cx="438.21" cy="306.20" r="2.62" fill="rgba(47,176,166,0.55)" stroke="rgba(47,176,166,0.40)" stroke-width="0.91"/>
<circle cx="453.90" cy="302.00" r="2.62" fill="rgba(47,176,166,0.55)" stroke="rgba(47,176,166,0.40)" stroke-width="0.91"/>
<circle cx="469.58" cy="298.30" r="2.62" fill="rgba(47,176,166,0.55)" stroke="rgba(47,176,166,0.40)" stroke-width="0.91"/>
<circle cx="485.27" cy="294.50" r="2.62" fill="rgba(47,176,166,0.55)" stroke="rgba(47,176,166,0.40)" stroke-width="0.91"/>
<circle cx="500.96" cy="309.50" r="2.62" fill="rgba(47,176,166,0.55)" stroke="rgba(47,176,166,0.40)" stroke-width="0.91"/>
<circle cx="516.64" cy="315.00" r="2.62" fill="rgba(47,176,166,0.55)" stroke="rgba(47,176,166,0.40)" stroke-width="0.91"/>
<circle cx="532.33" cy="325.30" r="2.62" fill="rgba(47,176,166,0.55)" stroke="rgba(47,176,166,0.40)" stroke-width="0.91"/>
<circle cx="548.01" cy="336.50" r="2.62" fill="rgba(47,176,166,0.55)" stroke="rgba(47,176,166,0.40)" stroke-width="0.91"/>
<path d="M93.11 336.50C98.34 336.50 103.57 336.50 108.80 336.50C114.03 336.50 119.26 336.50 124.49 336.50C129.71 336.50 134.94 312.40 140.17 312.40C145.40 312.40 150.63 329.20 155.86 329.20C161.09 329.20 166.32 329.20 171.54 329.20C176.77 329.20 182.00 330.40 187.23 330.40C192.46 330.40 197.69 329.60 202.92 329.60C208.15 329.60 213.37 331.90 218.60 331.90C223.83 331.90 229.06 330.00 234.29 330.00C239.52 330.00 244.75 333.10 249.98 333.10C255.20 333.10 260.43 328.75 265.66 328.75C270.89 328.75 276.12 328.75 281.35 328.75C286.58 328.75 291.81 333.10 297.03 333.10C302.26 333.10 307.49 331.25 312.72 331.25C317.95 331.25 323.18 336.25 328.41 336.25C333.64 336.25 338.86 336.25 344.09 336.25C349.32 336.25 354.55 332.54 359.78 326.25C365.01 319.96 370.24 298.50 375.47 298.50C380.69 298.50 385.92 298.50 391.15 299.25C396.38 300.00 401.61 308.70 406.84 308.70C412.07 308.70 417.30 299.50 422.52 299.50C427.75 299.50 432.98 300.10 438.21 300.30C443.44 300.50 448.67 300.70 453.90 300.70C459.13 300.70 464.35 296.20 469.58 296.20C474.81 296.20 480.04 296.20 485.27 298.00C490.50 299.80 495.73 311.72 500.96 315.50C506.18 319.28 511.41 318.37 516.64 320.70C521.87 323.03 527.10 326.87 532.33 329.50C537.56 332.13 542.79 334.17 548.01 336.50" fill="none" stroke="#2fb0a6" stroke-width="2.85" stroke-linejoin="round" stroke-linecap="butt"/>
<circle cx="93.11" cy="336.50" r="2.62" fill="#2fb0a6" stroke="#2fb0a6" stroke-width="0.91"/>
<circle cx="108.80" cy="336.50" r="2.62" fill="#2fb0a6" stroke="#2fb0a6" stroke-width="0.91"/>
<circle cx="124.49" cy="336.50" r="2.62" fill="#2fb0a6" stroke="#2fb0a6" stroke-width="0.91"/>
<circle cx="140.17" cy="312.40" r="2.62" fill="#2fb0a6" stroke="#2fb0a6" stroke-width="0.91"/>
<circle cx="155.86" cy="329.20" r="2.62" fill="#2fb0a6" stroke="#2fb0a6" stroke-width="0.91"/>
<circle cx="171.54" cy="329.20" r="2.62" fill="#2fb0a6" stroke="#2fb0a6" stroke-width="0.91"/>
<circle cx="187.23" cy="330.40" r="2.62" fill="#2fb0a6" stroke="#2fb0a6" stroke-width="0.91"/>
<circle cx="202.92" cy="329.60" r="2.62" fill="#2fb0a6" stroke="#2fb0a6" stroke-width="0.91"/>
<circle cx="218.60" cy="331.90" r="2.62" fill="#2fb0a6" stroke="#2fb0a6" stroke-width="0.91"/>
<circle cx="234.29" cy="330.00" r="2.62" fill="#2fb0a6" stroke="#2fb0a6" stroke-width="0.91"/>
<circle cx="249.98" cy="333.10" r="2.62" fill="#2fb0a6" stroke="#2fb0a6" stroke-width="0.91"/>
<circle cx="265.66" cy="328.75" r="2.62" fill="#2fb0a6" stroke="#2fb0a6" stroke-width="0.91"/>
<circle cx="281.35" cy="328.75" r="2.62" fill="#2fb0a6" stroke="#2fb0a6" stroke-width="0.91"/>
<circle cx="297.03" cy="333.10" r="2.62" fill="#2fb0a6" stroke="#2fb0a6" stroke-width="0.91"/>
<circle cx="312.72" cy="331.25" r="2.62" fill="#2fb0a6" stroke="#2fb0a6" stroke-width="0.91"/>
<circle cx="328.41" cy="336.25" r="2.62" fill="#2fb0a6" stroke="#2fb0a6" stroke-width="0.91"/>
<circle cx="344.09" cy="336.25" r="2.62" fill="#2fb0a6" stroke="#2fb0a6" stroke-width="0.91"/>
<circle cx="359.78" cy="326.25" r="2.62" fill="#2fb0a6" stroke="#2fb0a6" stroke-width="0.91"/>
<circle cx="375.47" cy="298.50" r="2.62" fill="#2fb0a6" stroke="#2fb0a6" stroke-width="0.91"/>
<circle cx="391.15" cy="299.25" r="2.62" fill="#2fb0a6" stroke="#2fb0a6" stroke-width="0.91"/>
<circle cx="406.84" cy="308.70" r="2.62" fill="#2fb0a6" stroke="#2fb0a6" stroke-width="0.91"/>
<circle cx="422.52" cy="299.50" r="2.62" fill="#2fb0a6" stroke="#2fb0a6" stroke-width="0.91"/>
<circle cx="438.21" cy="300.30" r="2.62" fill="#2fb0a6" stroke="#2fb0a6" stroke-width="0.91"/>
<circle cx="453.90" cy="300.70" r="2.62" fill="#2fb0a6" stroke="#2fb0a6" stroke-width="0.91"/>
<circle cx="469.58" cy="296.20" r="2.62" fill="#2fb0a6" stroke="#2fb0a6" stroke-width="0.91"/>
<circle cx="485.27" cy="298.00" r="2.62" fill="#2fb0a6" stroke="#2fb0a6" stroke-width="0.91"/>
<circle cx="500.96" cy="315.50" r="2.62" fill="#2fb0a6" stroke="#2fb0a6" stroke-width="0.91"/>
<circle cx="516.64" cy="320.70" r="2.62" fill="#2fb0a6" stroke="#2fb0a6" stroke-width="0.91"/>
<circle cx="532.33" cy="329.50" r="2.62" fill="#2fb0a6" stroke="#2fb0a6" stroke-width="0.91"/>
<circle cx="548.01" cy="336.50" r="2.62" fill="#2fb0a6" stroke="#2fb0a6" stroke-width="0.91"/>
</g>
</svg>
<kbd></kbd>
<p class="help"><span class="ln"><span class="fit" id="t3" style="transform:scaleX(1.4108)">Zooming is enabled by clicking and selecting an area. Pan is activated</span></span><span class="ln"><span class="fit" id="t4" style="transform:scaleX(1.4150)">by keeping</span><span class="fit" id="t5" style="position:absolute;left:98.2px;transform:scaleX(1.4733)">shift</span><span class="fit" id="t6" style="position:absolute;left:142.6px;transform:scaleX(1.4055)">pressed.</span></span></p>
<button class="reset" type="button"><svg width="21" height="17" viewBox="0 0 24 24" preserveAspectRatio="none" fill="none" stroke="#2d3748" stroke-width="2" stroke-linecap="round" stroke-linejoin="round"><path d="M21 21l-6-6m2-5a7 7 0 11-14 0 7 7 0 0114 0zM10 7v3m0 0v3m0-3h3m-3 0H7"/></svg><span class="fit" id="t7" style="transform:scaleX(1.3393)">Reset Zoom</span></button>
<svg id="cursor" width="854" height="480" viewBox="0 0 854 480">
<ellipse cx="427.2" cy="407.6" rx="26.4" ry="19.1" fill="none" stroke="#111" stroke-width="2"/>
<path d="M428.0 408.9 L428.0 420.1 L431.4 417.5 L433.8 421.7 L435.8 420.8 L433.6 416.7 L438.2 416.6 Z" fill="#111" stroke="#fff" stroke-width="0.7" stroke-linejoin="round"/>
</svg>
</body>
</html>
